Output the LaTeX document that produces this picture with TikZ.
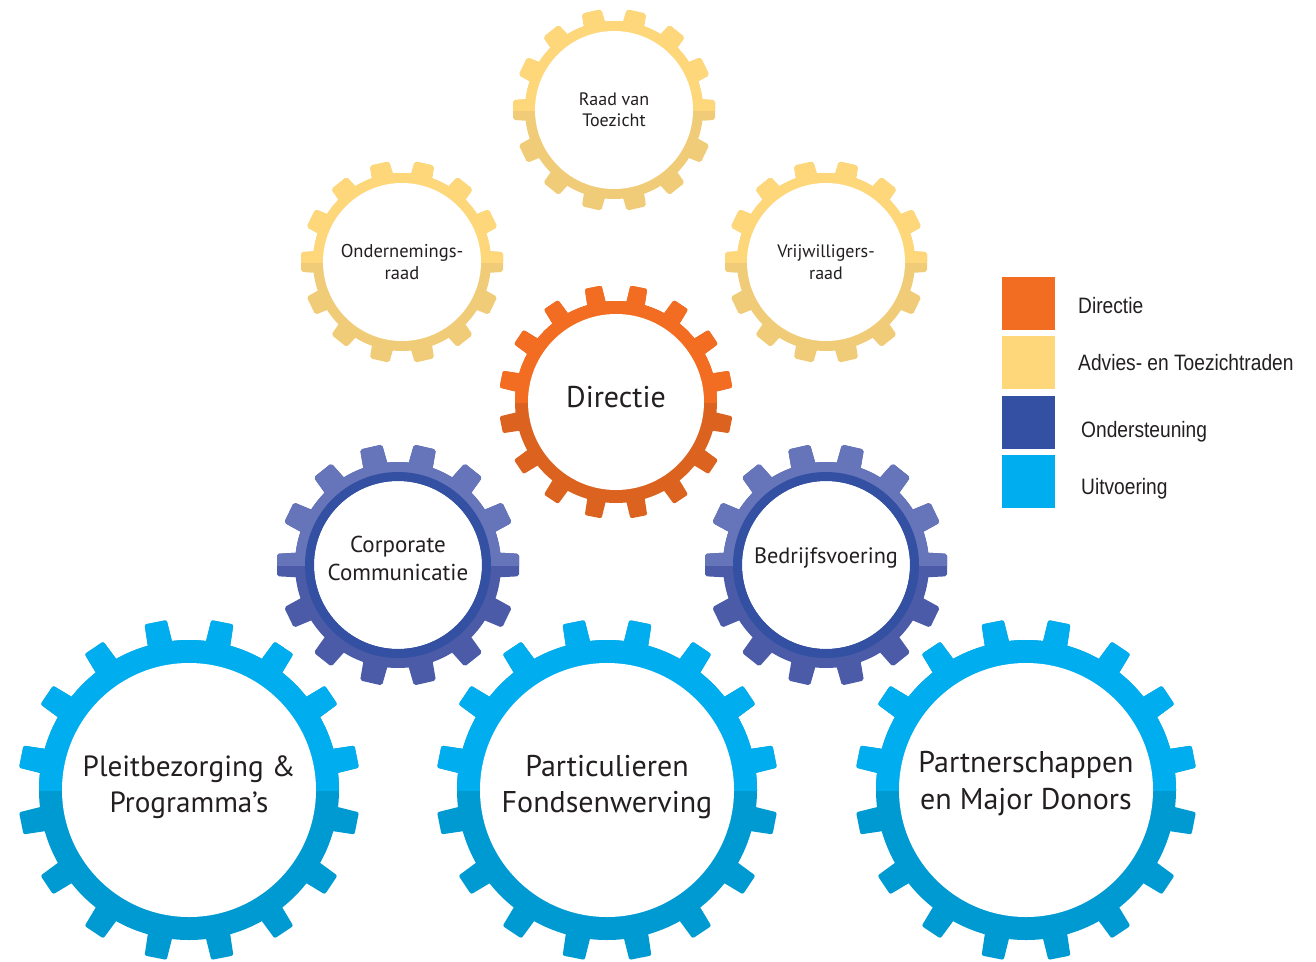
\documentclass[tikz,border=0pt]{standalone}
\usepackage{fontspec}
\setmainfont{PT Sans}
\newfontfamily\legendfont[FakeStretch=0.86]{Liberation Sans}
\usetikzlibrary{positioning}

\definecolor{advtop}{HTML}{FDD77A}
\definecolor{advbot}{HTML}{F0CC78}
\definecolor{dirtop}{HTML}{F26D21}
\definecolor{dirbot}{HTML}{DC631F}
\definecolor{ondtop}{HTML}{6675B9}
\definecolor{ondbot}{HTML}{4B5BA8}
\definecolor{ondring}{HTML}{3350A2}
\definecolor{uittop}{HTML}{00AEEF}
\definecolor{uitbot}{HTML}{009AD3}
\definecolor{inktext}{HTML}{231F20}

\newcommand{\cogfill}[6]{%
  \fill (#1) circle (#2pt);
  \foreach \k in {1,...,#4}
    \fill[rounded corners=2pt, shift={(#1)}, rotate={#5+360/#4*\k}]
      (#2-5,-#6/2) -- (#3,-0.45*#6) -- (#3,0.45*#6) -- (#2-5,#6/2) -- cycle;
}
\newcommand{\cogwheel}[9]{%
  \coordinate (#2) at (#3);
  \begin{scope}[fill=#1bot]\cogfill{#2}{#5}{#6}{#7}{#8}{#9}\end{scope}
  \begin{scope}
    \clip[shift={(#2)}] (-200,-200) rectangle (200,0);
    \begin{scope}[fill=#1top]\cogfill{#2}{#5}{#6}{#7}{#8}{#9}\end{scope}
  \end{scope}
  \fill[white] (#2) circle (#4pt);
}

\tikzset{
  gtxt/.style={align=center, text=inktext, inner sep=0pt},
  legsq/.style={minimum size=53pt, inner sep=0pt, outer sep=0pt},
  legtxt/.style={font=\legendfont\fontsize{22.3}{26}\selectfont, text=inktext,
    inner sep=0pt, text height=16pt, text depth=0pt}
}

\begin{document}
\begin{tikzpicture}[x=1pt,y=-1pt]
    \useasboundingbox (0,0) rectangle (1316,961);

    \cogwheel{uit}{pleit}{189,790}{127}{150}{171}{16}{11.25}{25}
    \cogwheel{uit}{partic}{607,790}{127}{150}{171}{16}{11.25}{25}
    \cogwheel{uit}{partner}{1026,790}{127}{150}{171}{16}{11.25}{25}

    \cogwheel{ond}{corp}{398,565}{84}{103}{121}{14}{0}{25}
    \draw[ondring, line width=9pt] (corp) circle (88.5pt);
    \cogwheel{ond}{bedr}{826,565}{84}{103}{121}{14}{0}{25}
    \draw[ondring, line width=9pt] (bedr) circle (88.5pt);

    \cogwheel{dir}{direc}{616,402}{88}{101}{117}{16}{11.25}{19}

    \cogwheel{adv}{raad}{614,110}{79}{89}{101}{14}{0}{22}
    \cogwheel{adv}{ondr}{402,262}{79}{89}{101}{14}{0}{22}
    \cogwheel{adv}{vrijw}{826,262}{79}{89}{101}{14}{0}{22}

    \node[gtxt, font=\fontsize{18}{21}\selectfont] (raadtxt) at (raad) {Raad van\\Toezicht};
    \node[gtxt, font=\fontsize{18.5}{22}\selectfont] (ondrtxt) at (ondr) {Ondernemings-\\raad};
    \node[gtxt, font=\fontsize{18}{22}\selectfont] (vrijwtxt) at (vrijw) {Vrijwilligers-\\raad};
    \node[gtxt, font=\fontsize{30}{36}\selectfont, yshift=4.5pt] (directxt) at (direc) {Directie};
    \node[gtxt, font=\fontsize{23}{28}\selectfont, yshift=6.5pt] (corptxt) at (corp) {Corporate\\Communicatie};
    \node[gtxt, font=\fontsize{22.3}{28}\selectfont, yshift=7pt] (bedrtxt) at (bedr) {Bedrijfsvoering};
    \node[gtxt, font=\fontsize{29.2}{36}\selectfont, yshift=3pt] (pleittxt) at (pleit) {Pleitbezorging \&\\Programma’s};
    \node[gtxt, font=\fontsize{30}{36}\selectfont, yshift=3pt] (partictxt) at (partic) {Particulieren\\Fondsenwerving};
    \node[gtxt, font=\fontsize{30}{37}\selectfont, yshift=6pt] (partnertxt) at (partner) {Partnerschappen\\en Major Donors};

    \node[legsq, fill=dirtop] (legdir) at (1028.5,303.5) {};
    \node[legsq, fill=advtop, below=6.3pt of legdir] (legadv) {};
    \node[legsq, fill=ondring, below=6.3pt of legadv] (legond) {};
    \node[legsq, fill=uittop, below=6.3pt of legond] (leguit) {};
    \node[legtxt, right=23pt of legdir, yshift=-2pt] (txtdir) {Directie};
    \node[legtxt, right=23pt of legadv] (txtadv) {Advies- en Toezichtraden};
    \node[legtxt, right=26pt of legond, yshift=-7.5pt] (txtond) {Ondersteuning};
    \node[legtxt, right=26pt of leguit, yshift=-5pt] (txtuit) {Uitvoering};
\end{tikzpicture}
\end{document}
